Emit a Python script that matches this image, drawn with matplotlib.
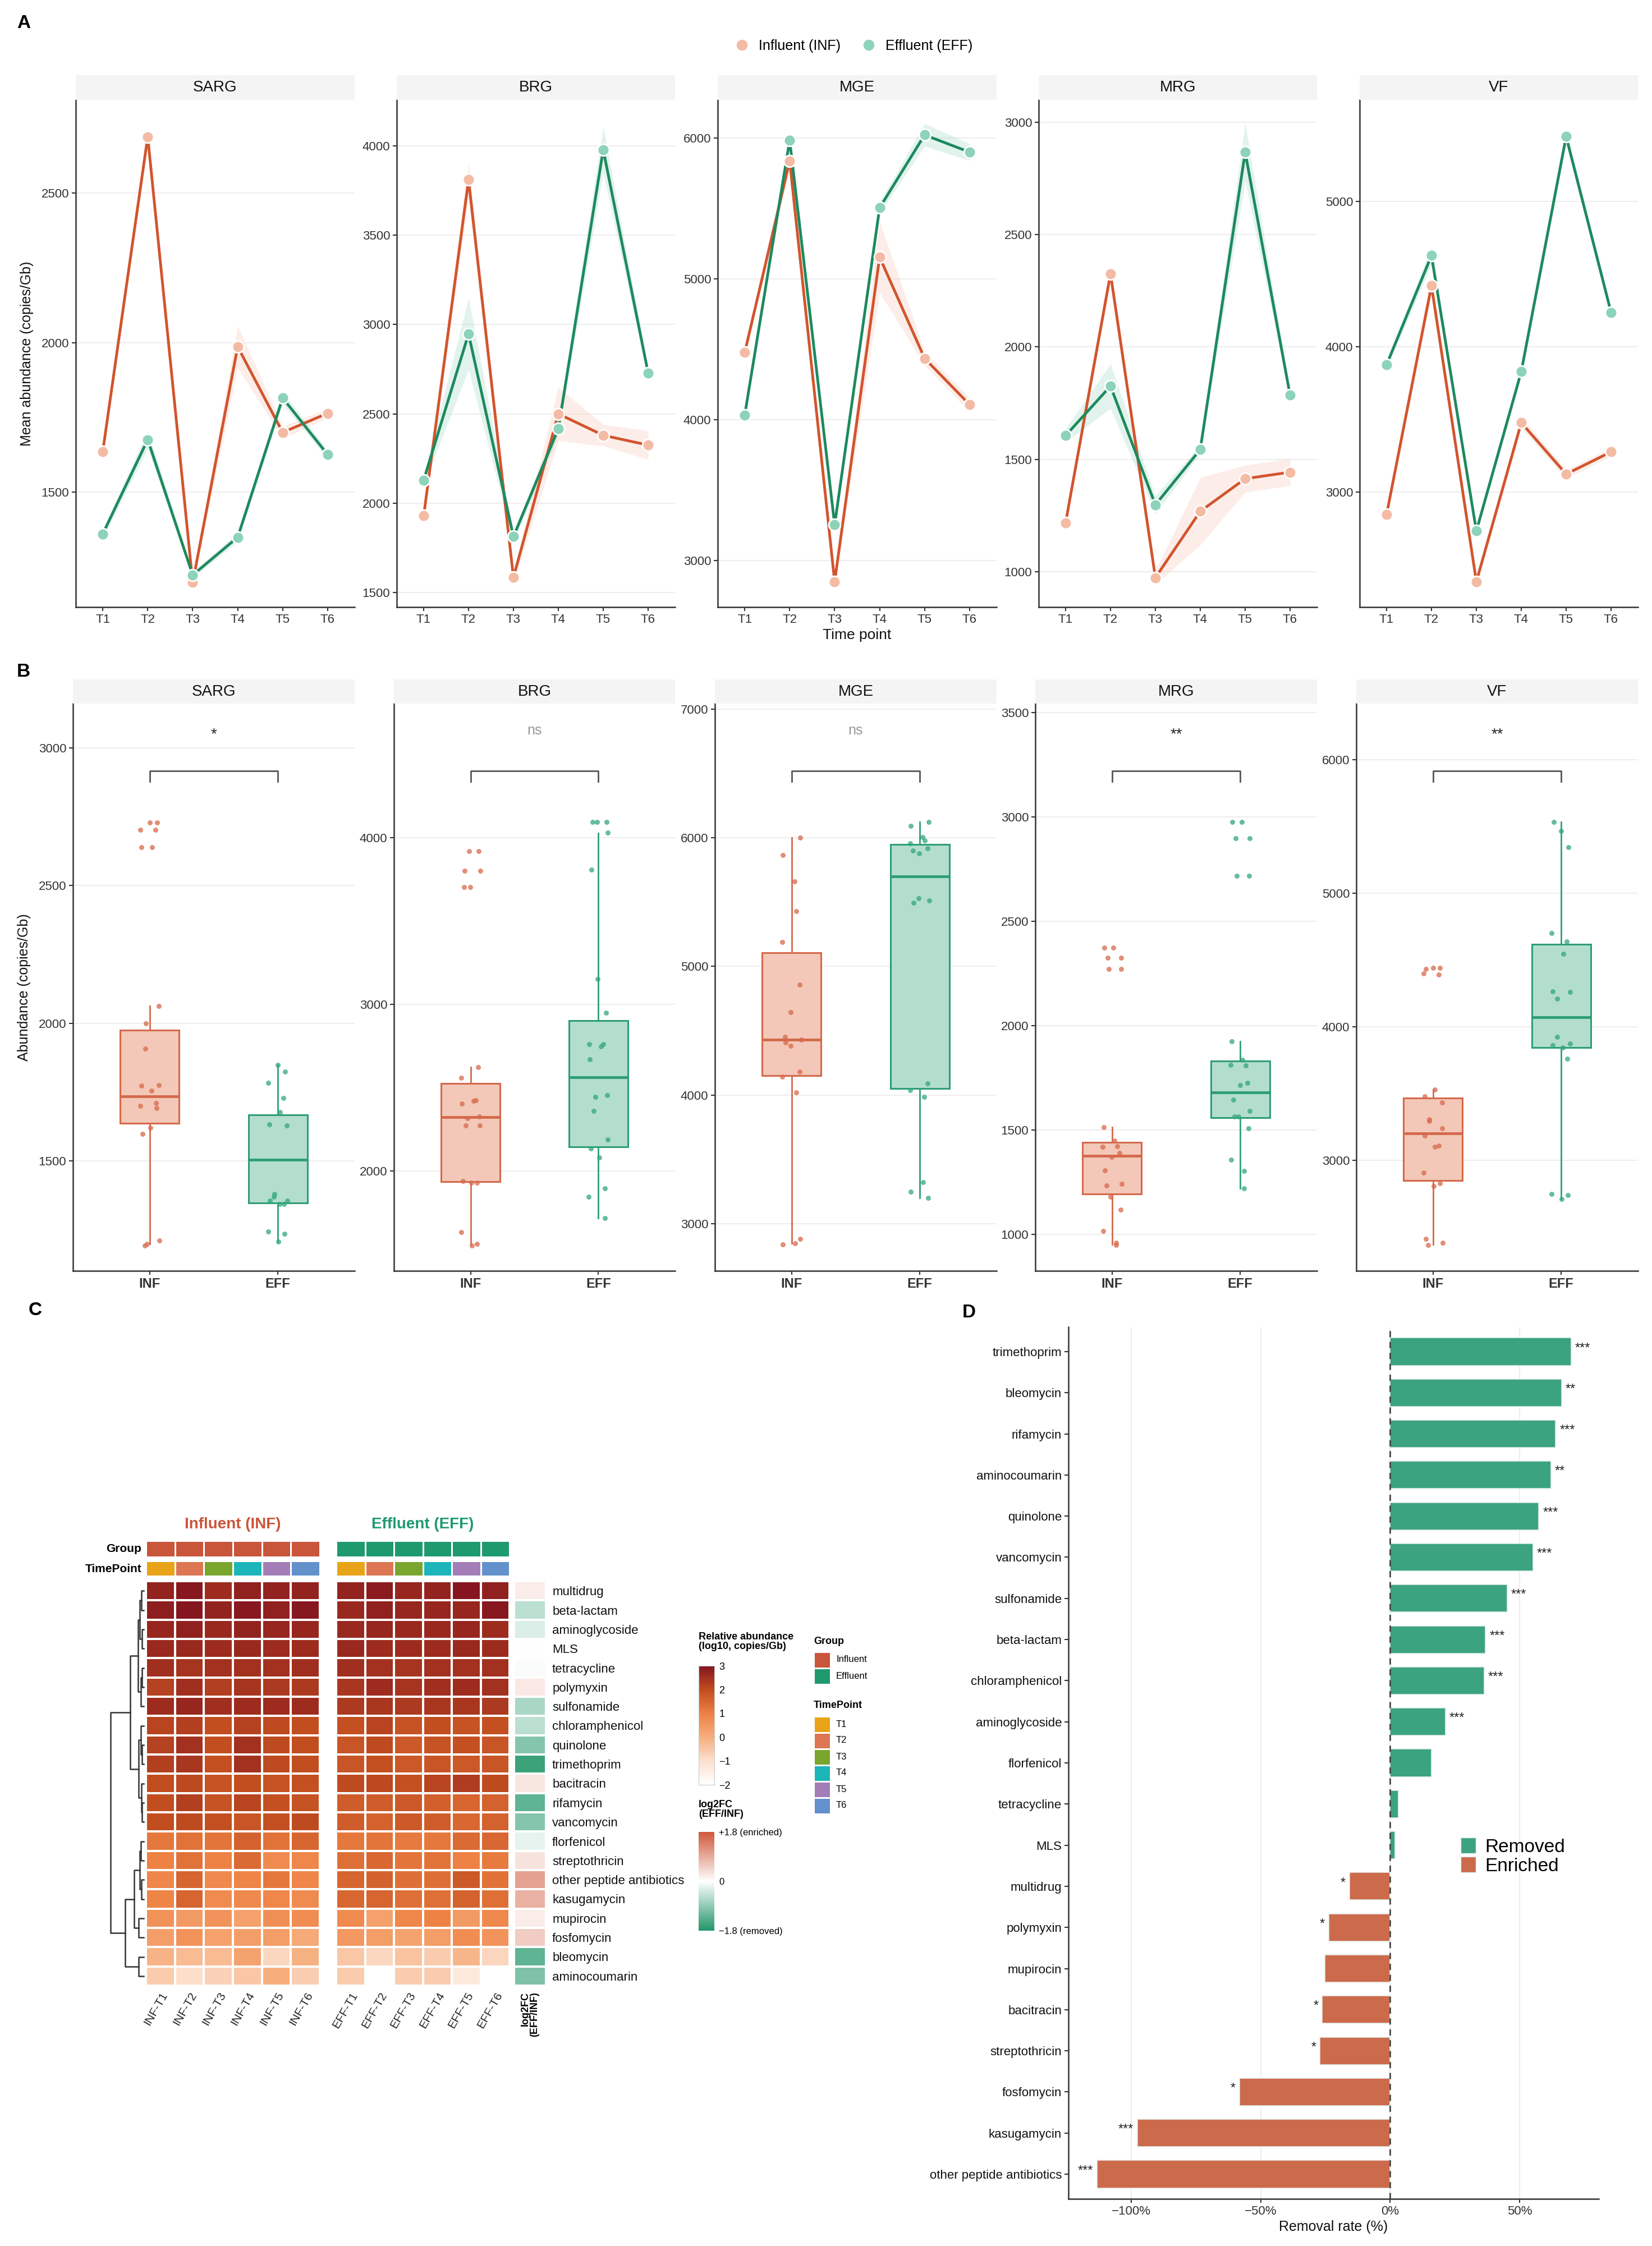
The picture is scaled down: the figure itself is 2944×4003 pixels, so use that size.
import numpy as np
import matplotlib
matplotlib.use("Agg")
import matplotlib.pyplot as plt
from matplotlib.colors import LinearSegmentedColormap
from matplotlib.patches import Patch
from matplotlib.lines import Line2D

plt.rcParams['font.family'] = ['Liberation Sans Narrow', 'Liberation Sans', 'DejaVu Sans']

W, H = 2944, 4003

# ---------------- data: panel A (mean abundance per time point) ----------------
modules = ['SARG', 'BRG', 'MGE', 'MRG', 'VF']
timepoints = ['T1', 'T2', 'T3', 'T4', 'T5', 'T6']

a_inf = [[1636, 2687, 1199, 1986, 1700, 1764],
         [1929, 3809, 1585, 2500, 2380, 2325],
         [4477, 5839, 2851, 5155, 4436, 4108],
         [1218, 2326, 974, 1269, 1414, 1443],
         [2847, 4422, 2385, 3479, 3125, 3278]]
a_eff = [[1361, 1676, 1224, 1350, 1815, 1626],
         [2129, 2947, 1813, 2417, 3977, 2729],
         [4032, 5985, 3254, 5506, 6023, 5901],
         [1606, 1826, 1298, 1544, 2866, 1786],
         [3878, 4629, 2734, 3830, 5448, 4238]]
a_inf_se = [[20, 30, 15, 70, 20, 15],
            [30, 100, 30, 150, 60, 80],
            [40, 60, 30, 250, 50, 50],
            [20, 40, 30, 150, 60, 60],
            [30, 60, 30, 40, 30, 30]]
a_eff_se = [[15, 30, 10, 15, 20, 15],
            [30, 200, 30, 40, 130, 30],
            [40, 40, 40, 40, 80, 60],
            [30, 100, 40, 20, 130, 20],
            [30, 60, 30, 30, 50, 30]]
a_ylim = [(1117, 2810), (1419, 4256), (2670, 6272), (843, 3099), (2210, 5700)]
a_yticks = [[1500, 2000, 2500], [1500, 2000, 2500, 3000, 3500, 4000],
            [3000, 4000, 5000, 6000], [1000, 1500, 2000, 2500, 3000],
            [3000, 4000, 5000]]

# ---------------- data: panel B (per-sample abundance) ----------------
sarg_inf = [2729, 2729, 2702, 2702, 2639, 2639, 2062, 2000, 1908, 1775, 1773, 1754,
            1710, 1699, 1691, 1620, 1598, 1211, 1192, 1199]
sarg_eff = [1848, 1823, 1783, 1729, 1677, 1633, 1628, 1380, 1370, 1355, 1355, 1343,
            1343, 1243, 1236, 1207]
brg_inf = [3920, 3920, 3803, 3803, 3704, 3704, 2624, 2558, 2425, 2420, 2403, 2325,
           2318, 2274, 2274, 1939, 1930, 1930, 1631, 1563, 1553]
brg_eff = [4095, 4095, 4095, 4032, 3808, 3153, 2949, 2762, 2760, 2748, 2670, 2456,
           2446, 2359, 2187, 2136, 2080, 1896, 1844, 1718]
mge_inf = [6000, 5865, 5660, 5431, 5189, 4859, 4642, 4453, 4431, 4409, 4384, 4182,
           4142, 4019, 2846, 2836, 2880]
mge_eff = [6123, 6091, 6006, 5981, 5959, 5918, 5877, 5902, 5512, 5494, 5528, 4091,
           4038, 3984, 3321, 3246, 3198]
mrg_inf = [2374, 2374, 2326, 2326, 2271, 2271, 1515, 1450, 1423, 1419, 1390, 1372,
           1306, 1242, 1234, 1180, 1118, 1016, 961, 950]
mrg_eff = [2975, 2975, 2899, 2899, 2719, 2719, 1926, 1837, 1810, 1812, 1725, 1715,
           1647, 1593, 1566, 1566, 1508, 1357, 1305, 1220]
vf_inf = [4433, 4442, 4442, 4397, 4391, 3530, 3476, 3433, 3306, 3291, 3239, 3182,
          3100, 3109, 2906, 2824, 2806, 2409, 2382, 2364]
vf_eff = [5533, 5467, 5345, 4700, 4639, 4545, 4264, 4258, 4209, 3924, 3873, 3861,
          3845, 3761, 2745, 2739, 2709]
b_points_inf = [sarg_inf, brg_inf, mge_inf, mrg_inf, vf_inf]
b_points_eff = [sarg_eff, brg_eff, mge_eff, mrg_eff, vf_eff]

# box statistics: whisker low, q1, median, q3, whisker high
box_inf = [[1199, 1636, 1735, 1975, 2062],
           [1558, 1934, 2322, 2524, 2624],
           [2846, 4151, 4431, 5107, 6000],
           [952, 1194, 1378, 1442, 1515],
           [2367, 2845, 3200, 3464, 3527]]
box_eff = [[1207, 1348, 1504, 1667, 1848],
           [1718, 2146, 2563, 2903, 4029],
           [3198, 4050, 5701, 5950, 6123],
           [1220, 1560, 1680, 1831, 1926],
           [2709, 3845, 4070, 4618, 5533]]
b_sig = ['*', 'ns', 'ns', '**', '**']
b_ylim = [(1101, 3160), (1400, 4806), (2632, 7044), (826, 3543), (2170, 6421)]
b_yticks = [[1500, 2000, 2500, 3000], [2000, 3000, 4000],
            [3000, 4000, 5000, 6000, 7000], [1000, 1500, 2000, 2500, 3000, 3500],
            [3000, 4000, 5000, 6000]]

# ---------------- data: panel C (log10 relative abundance) ----------------
classes_c = ['multidrug', 'beta-lactam', 'aminoglycoside', 'MLS', 'tetracycline',
             'polymyxin', 'sulfonamide', 'chloramphenicol', 'quinolone', 'trimethoprim',
             'bacitracin', 'rifamycin', 'vancomycin', 'florfenicol', 'streptothricin',
             'other peptide antibiotics', 'kasugamycin', 'mupirocin', 'fosfomycin',
             'bleomycin', 'aminocoumarin']
heat_inf = [[2.75, 2.95, 2.6, 2.8, 2.75, 2.75],
            [2.85, 3.0, 2.75, 2.95, 2.8, 2.95],
            [2.7, 2.8, 2.65, 2.75, 2.7, 2.7],
            [2.65, 2.65, 2.6, 2.65, 2.6, 2.6],
            [2.55, 2.45, 2.5, 2.5, 2.5, 2.55],
            [2.2, 2.55, 2.25, 2.45, 2.35, 2.35],
            [2.6, 2.7, 2.55, 2.6, 2.6, 2.6],
            [2.15, 2.25, 2.0, 2.2, 2.05, 2.0],
            [2.2, 2.5, 2.0, 2.5, 2.05, 2.0],
            [2.25, 2.4, 1.95, 2.5, 2.05, 2.0],
            [2.0, 2.1, 1.9, 2.0, 1.9, 1.95],
            [2.0, 2.25, 1.9, 2.15, 1.95, 1.9],
            [2.0, 2.05, 1.95, 1.85, 1.95, 2.05],
            [1.2, 1.3, 1.25, 1.6, 1.3, 1.55],
            [1.0, 1.3, 1.0, 1.45, 0.8, 0.9],
            [0.9, 1.55, 0.85, 0.95, 1.2, 0.9],
            [0.95, 1.55, 0.8, 0.85, 0.9, 0.8],
            [0.65, 0.45, 0.6, 0.3, 0.7, 0.75],
            [0.35, 0.6, 0.3, 0.35, 0.4, 0.1],
            [-0.1, -0.25, -0.25, 0.25, -0.8, -0.05],
            [-0.6, -0.95, -0.7, -0.5, 0.0, -0.65]]
heat_eff = [[2.75, 2.9, 2.7, 2.75, 3.0, 2.8],
            [2.65, 2.8, 2.7, 2.7, 2.7, 2.95],
            [2.65, 2.7, 2.65, 2.65, 2.7, 2.6],
            [2.65, 2.6, 2.6, 2.6, 2.65, 2.6],
            [2.55, 2.5, 2.45, 2.5, 2.5, 2.5],
            [2.4, 2.6, 2.45, 2.55, 2.6, 2.5],
            [2.35, 2.4, 2.35, 2.4, 2.4, 2.35],
            [1.95, 2.15, 1.9, 2.0, 1.9, 1.95],
            [1.85, 2.05, 1.75, 1.9, 1.95, 1.85],
            [1.85, 1.95, 1.8, 1.85, 1.8, 1.85],
            [2.05, 2.1, 1.95, 2.15, 2.3, 2.05],
            [1.7, 1.7, 1.75, 1.65, 1.55, 1.6],
            [1.7, 1.6, 1.75, 1.7, 1.5, 1.6],
            [1.2, 1.25, 1.15, 1.2, 1.45, 1.5],
            [1.35, 1.5, 1.25, 1.3, 1.0, 1.15],
            [1.55, 1.6, 1.35, 1.35, 1.75, 1.3],
            [1.5, 1.55, 1.35, 1.35, 1.6, 1.35],
            [0.8, 0.3, 0.9, 1.0, 0.45, 0.85],
            [0.5, 0.4, 0.25, 0.4, 0.75, 0.6],
            [-0.5, -0.8, -0.4, -0.6, -0.15, -0.8],
            [-0.6, -2.0, -0.6, -0.6, -1.3, -2.0]]
log2fc = [0.2, -0.55, -0.3, 0.0, -0.05, 0.25, -0.7, -0.55, -1.0, -1.6, 0.28, -1.3,
          -1.0, -0.2, 0.3, 1.0, 0.85, 0.2, 0.55, -1.3, -1.05]
# row clustering tree: (left, right, height)
row_tree = (((((0, 1, 0.06), (2, 3, 0.05), 0.12), ((4, 5, 0.05), 6, 0.08), 0.17),
             ((7, (8, 9, 0.04), 0.08), (10, (11, 12, 0.04), 0.07), 0.15), 0.41),
            ((((13, 14, 0.08), (15, 16, 0.06), 0.12), (17, 18, 0.15), 0.29),
             (19, 20, 0.15), 0.55), 1.0)
tp_colors = ['#E8A317', '#DC7653', '#7AA62D', '#1CB5B9', '#A37DB8', '#6291CC']

# ---------------- data: panel D (removal rate) ----------------
d_classes = ['trimethoprim', 'bleomycin', 'rifamycin', 'aminocoumarin', 'quinolone',
             'vancomycin', 'sulfonamide', 'beta-lactam', 'chloramphenicol',
             'aminoglycoside', 'florfenicol', 'tetracycline', 'MLS', 'multidrug',
             'polymyxin', 'mupirocin', 'bacitracin', 'streptothricin', 'fosfomycin',
             'kasugamycin', 'other peptide antibiotics']
d_rate = [69.9, 66.3, 64.0, 62.2, 57.5, 55.2, 45.3, 36.9, 36.4, 21.3, 15.9, 3.3, 1.9,
          -15.7, -23.8, -25.2, -26.2, -27.1, -58.2, -97.7, -113.3]
d_sig = ['***', '**', '***', '**', '***', '***', '***', '***', '***', '***', '', '', '',
         '*', '*', '', '*', '*', '*', '***', '***']

# ---------------- styling ----------------
INF_LINE, INF_PT = '#D2542E', '#F4BBA4'
EFF_LINE, EFF_PT = '#1D8A5E', '#8CD3BA'
INF_BOX_FILL, INF_BOX_EDGE = '#F3C8B8', '#D4694B'
EFF_BOX_FILL, EFF_BOX_EDGE = '#B3DECD', '#2E9E74'
AX_COL = '#333333'


def box(x0, y0, x1, y1):
    return [x0 / W, 1 - y1 / H, (x1 - x0) / W, (y1 - y0) / H]


def style_axis(ax):
    for s in ['top', 'right']:
        ax.spines[s].set_visible(False)
    for s in ['left', 'bottom']:
        ax.spines[s].set_color(AX_COL)
        ax.spines[s].set_linewidth(1.8)
    ax.tick_params(colors=AX_COL, labelsize=16, length=5, width=1.5)
    ax.yaxis.grid(True, color='#EEEEEE', lw=1.5)
    ax.set_axisbelow(True)


def strip(x0, y0, x1, y1, label):
    s = fig.add_axes(box(x0, y0, x1, y1))
    s.set_facecolor('#F4F4F4')
    s.set_xticks([])
    s.set_yticks([])
    for sp in s.spines.values():
        sp.set_visible(False)
    s.text(0.5, 0.5, label, ha='center', va='center', fontsize=20, color='#111111',
           transform=s.transAxes)


fig = plt.figure(figsize=(W / 100, H / 100), dpi=100)

# ================= Panel A =================
a_x = [(135, 632), (707, 1203), (1279, 1776), (1851, 2347), (2423, 2919)]
xs = np.arange(len(timepoints))
for i, m in enumerate(modules):
    x0, x1 = a_x[i]
    ax = fig.add_axes(box(x0, 178, x1, 1082))
    style_axis(ax)
    strip(x0, 134, x1, 178, m)
    for vals, se, lc, pc in [(a_inf[i], a_inf_se[i], INF_LINE, INF_PT),
                             (a_eff[i], a_eff_se[i], EFF_LINE, EFF_PT)]:
        v = np.array(vals, float)
        e = np.array(se, float)
        ax.fill_between(xs, v - e, v + e, color=pc, alpha=0.25, lw=0)
        ax.plot(xs, v, color=lc, lw=3.5, zorder=3)
        ax.plot(xs, v, 'o', ms=15, mfc=pc, mec='white', mew=2, zorder=4)
    ax.set_xlim(-0.6, 5.6)
    ax.set_ylim(*a_ylim[i])
    ax.set_yticks(a_yticks[i])
    ax.set_xticks(xs)
    ax.set_xticklabels(timepoints)
    if i == 0:
        ax.set_ylabel('Mean abundance (copies/Gb)', fontsize=18, color='#111111',
                      labelpad=10)
    if i == 2:
        ax.set_xlabel('Time point', fontsize=19, color='#111111', labelpad=4)

handles_a = [Line2D([], [], ls='', marker='o', ms=15, mfc=INF_PT, mec='white'),
             Line2D([], [], ls='', marker='o', ms=15, mfc=EFF_PT, mec='white')]
fig.legend(handles_a, ['Influent (INF)', 'Effluent (EFF)'], loc='center', ncol=2,
           bbox_to_anchor=(1515 / W, 1 - 82 / H), frameon=False, fontsize=18,
           handletextpad=0.2, columnspacing=1.0)
fig.text(30 / W, 1 - 42 / H, 'A', fontsize=24, fontweight='bold', va='center')

# ================= Panel B =================
b_x = [(130, 632), (702, 1203), (1274, 1776), (1845, 2347), (2417, 2919)]
for i, m in enumerate(modules):
    x0, x1 = b_x[i]
    ax = fig.add_axes(box(x0, 1254, x1, 2265))
    style_axis(ax)
    strip(x0, 1211, x1, 1254, m)
    stats = []
    for st in (box_inf[i], box_eff[i]):
        stats.append(dict(whislo=st[0], q1=st[1], med=st[2], q3=st[3], whishi=st[4]))
    for pos, st, fc, ec in [(0, stats[0], INF_BOX_FILL, INF_BOX_EDGE),
                            (1, stats[1], EFF_BOX_FILL, EFF_BOX_EDGE)]:
        ax.bxp([st], positions=[pos], widths=0.46, showfliers=False, showcaps=False,
               patch_artist=True,
               boxprops=dict(facecolor=fc, edgecolor=ec, lw=2.2),
               whiskerprops=dict(color=ec, lw=2),
               medianprops=dict(color=ec, lw=3.5))
    for pos, pts, col in [(0, b_points_inf[i], '#D8694B'), (1, b_points_eff[i], '#33A77C')]:
        n = len(pts)
        jit = 0.075 * np.sin(np.arange(n) * 2.3 + i)
        ax.scatter(pos + jit, pts, s=42, color=col, alpha=0.75, lw=0, zorder=4)
    ax.set_xlim(-0.6, 1.6)
    lo, hi = b_ylim[i]
    ax.set_ylim(lo, hi)
    ax.set_yticks(b_yticks[i])
    ax.set_xticks([0, 1])
    ax.set_xticklabels(['INF', 'EFF'], fontsize=17, fontweight='bold')
    span = hi - lo
    yb, yt = lo + 0.881 * span, lo + 0.863 * span
    ax.plot([0, 0, 1, 1], [yt, yb, yb, yt], color='#555555', lw=2)
    sig = b_sig[i]
    if sig == 'ns':
        ax.text(0.5, lo + 0.953 * span, 'ns', ha='center', va='center', fontsize=18,
                color='#999999')
    else:
        ax.text(0.5, lo + 0.945 * span, sig, ha='center', va='center', fontsize=20,
                color='#222222')
    if i == 0:
        ax.set_ylabel('Abundance (copies/Gb)', fontsize=18, color='#111111', labelpad=10)
fig.text(30 / W, 1 - 1197 / H, 'B', fontsize=24, fontweight='bold', va='center')

# ================= Panel C =================
fig.text(51 / W, 1 - 2335 / H, 'C', fontsize=24, fontweight='bold', va='center')
ab_cmap = LinearSegmentedColormap.from_list(
    'ab', [(0.0, '#FFFFFF'), (0.2, '#FCE0CE'), (0.4, '#F6AE7D'), (0.6, '#EE8244'),
           (0.8, '#C24E20'), (1.0, '#85161F')])
fc_cmap = LinearSegmentedColormap.from_list(
    'fc', [(0.0, '#23976A'), (0.5, '#FFFFFF'), (1.0, '#D05A3C')])

nrow = len(classes_c)
hm_top, hm_bot = 2818, 3539
blocks = [(260, 570, heat_inf, 'INF', '#C9553A', 'Influent (INF)'),
          (599, 908, heat_eff, 'EFF', '#1E9A6E', 'Effluent (EFF)')]
for x0, x1, mat, tag, gcol, title in blocks:
    ax = fig.add_axes(box(x0, hm_top, x1, hm_bot))
    ax.pcolormesh(np.array(mat), cmap=ab_cmap, vmin=-2, vmax=3,
                  edgecolors='white', linewidth=1.5)
    ax.set_ylim(nrow, 0)
    ax.set_xlim(0, 6)
    for sp in ax.spines.values():
        sp.set_visible(False)
    ax.set_yticks([])
    ax.set_xticks(np.arange(6) + 0.5)
    ax.set_xticklabels(['%s-%s' % (tag, t) for t in timepoints], rotation=60,
                       ha='right', rotation_mode='anchor', fontsize=15, color='#222222')
    ax.tick_params(length=0, pad=6)
    # group and time point annotation rows
    g = fig.add_axes(box(x0, 2746, x1, 2775))
    g.pcolormesh(np.zeros((1, 6)), cmap=LinearSegmentedColormap.from_list('g', [gcol, gcol]),
                 edgecolors='white', linewidth=1.0)
    t = fig.add_axes(box(x0, 2782, x1, 2809))
    t.pcolormesh(np.arange(6).reshape(1, 6),
                 cmap=LinearSegmentedColormap.from_list('t', tp_colors, N=6),
                 vmin=-0.5, vmax=5.5, edgecolors='white', linewidth=1.0)
    for a in (g, t):
        a.set_xticks([])
        a.set_yticks([])
        for sp in a.spines.values():
            sp.set_visible(False)
    fig.text((x0 + x1) / 2 / W, 1 - 2717 / H, title, ha='center', va='center',
             fontsize=20, fontweight='bold', color=gcol)
fig.text(252 / W, 1 - 2760 / H, 'Group', ha='right', va='center', fontsize=15,
         fontweight='bold')
fig.text(252 / W, 1 - 2796 / H, 'TimePoint', ha='right', va='center', fontsize=15,
         fontweight='bold')

axf = fig.add_axes(box(916, hm_top, 973, hm_bot))
axf.pcolormesh(np.array(log2fc).reshape(-1, 1), cmap=fc_cmap, vmin=-1.8, vmax=1.8,
               edgecolors='white', linewidth=1.5)
axf.set_ylim(nrow, 0)
for sp in axf.spines.values():
    sp.set_visible(False)
axf.set_xticks([0.5])
axf.set_xticklabels(['log2FC\n(EFF/INF)'], rotation=90, ha='center', va='top',
                    multialignment='right', fontsize=13, fontweight='bold',
                    linespacing=0.9)
axf.yaxis.tick_right()
axf.set_yticks(np.arange(nrow) + 0.5)
axf.set_yticklabels(classes_c, fontsize=16, color='#111111')
axf.tick_params(length=0, pad=8)

# dendrogram
axd = fig.add_axes(box(196, hm_top, 258, hm_bot))


def draw_tree(node):
    if isinstance(node, int):
        return node + 0.5, 0.0
    l, r, h = node
    yl, hl = draw_tree(l)
    yr, hr = draw_tree(r)
    axd.plot([hl, h, h, hr], [yl, yl, yr, yr], color='#333333', lw=1.8)
    return (yl + yr) / 2, h


draw_tree(row_tree)
axd.set_ylim(nrow, 0)
axd.set_xlim(1.02, -0.04)
axd.axis('off')

# legends for C
cb1 = fig.add_axes(box(1245, 2969, 1273, 3181))
cb1.imshow(np.linspace(3, -2, 200).reshape(-1, 1), cmap=ab_cmap, vmin=-2, vmax=3,
           aspect='auto', extent=[0, 1, -2, 3])
cb1.set_xticks([])
cb1.yaxis.tick_right()
cb1.set_yticks([3, 2, 1, 0, -1, -2])
cb1.set_yticklabels(['3', '2', '1', '0', '\u22121', '\u22122'], fontsize=13)
cb1.tick_params(length=0, pad=6)
for sp in cb1.spines.values():
    sp.set_color('#CCCCCC')
fig.text(1245 / W, 1 - 2926 / H, 'Relative abundance\n(log10, copies/Gb)', fontsize=13,
         fontweight='bold', va='center', ha='left', linespacing=1.0)

cb2 = fig.add_axes(box(1245, 3265, 1273, 3441))
cb2.imshow(np.linspace(1.8, -1.8, 200).reshape(-1, 1), cmap=fc_cmap, vmin=-1.8, vmax=1.8,
           aspect='auto', extent=[0, 1, -1.8, 1.8])
cb2.set_xticks([])
cb2.yaxis.tick_right()
cb2.set_yticks([1.8, 0, -1.8])
cb2.set_yticklabels(['+1.8 (enriched)', '0', '\u22121.8 (removed)'], fontsize=12)
cb2.tick_params(length=0, pad=6)
for sp in cb2.spines.values():
    sp.set_visible(False)
fig.text(1245 / W, 1 - 3225 / H, 'log2FC\n(EFF/INF)', fontsize=13, fontweight='bold',
         va='center', ha='left', linespacing=1.0)

fig.text(1450 / W, 1 - 2926 / H, 'Group', fontsize=13, fontweight='bold', va='center')
lg_group = fig.add_axes(box(1450, 2944, 1480, 3002))
lg_group.pcolormesh(np.array([[0], [1]]),
                    cmap=LinearSegmentedColormap.from_list('gg', ['#C9553A', '#1E9A6E'], N=2),
                    edgecolors='white', linewidth=1.0)
lg_group.set_ylim(2, 0)
lg_group.axis('off')
for k, lab in enumerate(['Influent', 'Effluent']):
    fig.text(1490 / W, 1 - (2958 + 29 * k) / H, lab, fontsize=12, va='center')

fig.text(1450 / W, 1 - 3040 / H, 'TimePoint', fontsize=13, fontweight='bold', va='center')
lg_tp = fig.add_axes(box(1450, 3059, 1480, 3233))
lg_tp.pcolormesh(np.arange(6).reshape(-1, 1),
                 cmap=LinearSegmentedColormap.from_list('tt', tp_colors, N=6),
                 vmin=-0.5, vmax=5.5, edgecolors='white', linewidth=1.0)
lg_tp.set_ylim(6, 0)
lg_tp.axis('off')
for k, lab in enumerate(timepoints):
    fig.text(1490 / W, 1 - (3073 + 29 * k) / H, lab, fontsize=12, va='center')

# ================= Panel D =================
fig.text(1715 / W, 1 - 2339 / H, 'D', fontsize=24, fontweight='bold', va='center')
axD = fig.add_axes(box(1904, 2365, 2849, 3919))
style_axis(axD)
axD.yaxis.grid(False)
axD.xaxis.grid(True, color='#EEEEEE', lw=1.5)
yd = np.arange(len(d_classes))
rate = np.array(d_rate)
cols = np.where(rate >= 0, '#3BA37F', '#CC6A4C')
axD.barh(yd, rate, height=0.67, color=cols, edgecolor='#E6EFEA', lw=1.2, zorder=2)
axD.axvline(0, color='#444444', lw=2, ls=(0, (4, 3)), zorder=3)
for y, r, s in zip(yd, rate, d_sig):
    if not s:
        continue
    if r >= 0:
        axD.text(r + 1.5, y - 0.08, s, ha='left', va='center', fontsize=17, color='#222222')
    else:
        axD.text(r - 1.5, y - 0.08, s, ha='right', va='center', fontsize=17, color='#222222')
axD.set_yticks(yd)
axD.set_yticklabels(d_classes, fontsize=16, color='#111111')
axD.set_ylim(len(d_classes) - 0.4, -0.6)
axD.set_xlim(-124.3, 80.6)
axD.set_xticks([-100, -50, 0, 50])
axD.set_xticklabels(['\u2212100%', '\u221250%', '0%', '50%'], fontsize=16)
axD.set_xlabel('Removal rate (%)', fontsize=18, color='#111111', labelpad=4)
handles_d = [Patch(facecolor='#3BA37F', edgecolor='#E6EFEA'),
             Patch(facecolor='#CC6A4C', edgecolor='#E6EFEA')]
axD.legend(handles_d, ['Removed', 'Enriched'], loc='upper left',
           bbox_to_anchor=(2590 / W, 1 - 3262 / H), bbox_transform=fig.transFigure,
           frameon=False, fontsize=24, handlelength=0.8, handleheight=0.9,
           handletextpad=0.5, labelspacing=0.05, borderaxespad=0)

fig.savefig('out.png', dpi=100, facecolor='white')
